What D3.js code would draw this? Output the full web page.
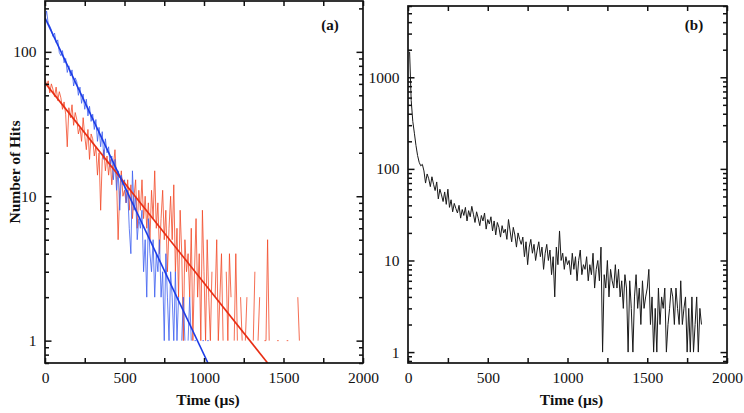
<!DOCTYPE html>
<html><head><meta charset="utf-8">
<script src="https://cdn.jsdelivr.net/npm/d3@7"></script>
<style>body{margin:0;background:#fff} svg{display:block}</style>
</head><body>
<svg id="c" width="744" height="413"></svg>
<script>
// ---- data (counts per 10 µs bin) ----
const binWidth = 10;
const redStart = 0;
const redCounts = [
 66,58,63,52,60,55,49,57,46,53,
 48,40,45,37,22,41,35,43,31,38,
 34,27,30,24,35,26,21,29,18,27,
 25,19,22,14,20,8,18,21,15,19,
 14,18,12,16,21,13,5,11,15,10,
 11,9,13,8,12,7,10,13,6,11,
 8,13,7,10,6,9,5,11,7,15,
 6,9,4,7,11,5,8,3,6,10,
 5,12,3,6,2,8,4,1,5,3,
 4,2,6,1,3,7,2,4,1,8,
 3,1,5,2,1,3,0,2,5,1,
 2,4,1,0,3,1,4,2,0,1,
 4,1,0,2,1,0,1,2,0,1,
 0,1,3,0,1,2,0,0,1,1,
 5,1,0,1,0,0,1,1,0,0,
 0,0,1,1,0,0,0,0,0,2,
 1,0,0,0,0,0,1];
const blueStart = 0;
const blueCounts = [
 170,192,158,151,142,128,135,116,121,99,
 94,102,84,90,72,80,68,75,58,66,
 62,50,57,44,51,40,47,36,42,33,
 37,29,34,24,30,22,28,18,25,20,
 22,16,19,13,18,11,15,8,14,12,
 13,9,11,6,4,15,8,10,5,7,
 6,8,3,5,2,7,4,3,5,2,
 4,3,5,2,3,1,4,2,1,3,
 2,1,3,1,2,0,1,2,1,0,
 1,2,1,0,1,1,0,1,0,1,
 1,0,1,1];
const blackStart = 10;
const blackCounts = [
 1900,560,330,245,180,140,118,108,112,95,
 70,88,78,64,82,68,58,72,47,60,
 52,44,56,41,60,38,46,34,42,37,
 33,40,29,36,31,38,27,35,30,39,
 32,26,34,29,24,31,27,33,22,28,
 25,30,21,27,19,26,23,18,24,20,
 22,17,28,21,16,23,19,14,20,17,
 15,18,11,16,9,14,17,12,15,10,
 13,16,11,14,8,12,15,10,13,7,
 11,4,14,9,21,10,12,8,11,9,
 10,7,12,8,11,6,10,13,7,9,
 8,11,6,9,7,12,5,8,10,6,
 14,1,7,5,10,4,8,6,5,9,
 5,8,4,6,3,7,5,1,6,3,
 1,4,7,3,5,2,6,3,4,5,
 8,2,4,1,3,1,5,2,4,3,
 5,1,2,3,5,4,2,5,3,2,
 6,2,3,4,1,3,1,4,1,2,
 4,1,3,2];
// exponential fits (straight lines on log axis): [time, hits] end points
const redFit = [[0, 61], [1400, 0.7]];
const blueFit = [[0, 172], [1025, 0.7]];
// axes
const xTickLabels = [0, 500, 1000, 1500, 2000];
const xTickStep = 250;
const xDomain = [0, 2000];
const yDomainA = [0.7, 225];
const yDomainB = [0.76, 6000];
const yTicksA = [1, 10, 100];
const yTicksB = [1, 10, 100, 1000];

const svg = d3.select("#c");
const FONT = "'Liberation Serif','Times New Roman',serif";

function toPoints(start, counts) {
  return counts.map((n, i) => ({t: start + i * binWidth, n}));
}

function minorTicks(dom) {
  const out = [];
  const lo = Math.floor(Math.log10(dom[0])), hi = Math.ceil(Math.log10(dom[1]));
  for (let e = lo; e <= hi; e++) for (let k = 2; k <= 9; k++) {
    const v = k * Math.pow(10, e);
    if (v >= dom[0] && v <= dom[1]) out.push(v);
  }
  return out;
}

function panel(opt) {
  const x = d3.scaleLinear().domain(xDomain).range([opt.x0, opt.x1]);
  const y = d3.scaleLog().domain(opt.yDomain).range([opt.y1, opt.y0]);
  const g = svg.append("g");
  const id = "clip" + opt.name;
  svg.append("clipPath").attr("id", id).append("rect")
    .attr("x", opt.x0).attr("y", opt.y0).attr("width", opt.x1 - opt.x0).attr("height", opt.y1 - opt.y0);
  const plot = g.append("g").attr("clip-path", `url(#${id})`);

  const line = d3.line().defined(d => d.n > 0).x(d => x(d.t)).y(d => y(d.n));
  opt.series.forEach(s => {
    plot.append("path").datum(s.data).attr("d", line)
      .attr("fill", "none").attr("stroke", s.color)
      .attr("stroke-width", s.width).attr("stroke-opacity", s.opacity || 1)
      .attr("stroke-linejoin", "round");
  });
  const fitLine = d3.line().x(d => x(d[0])).y(d => y(d[1]));
  (opt.fits || []).forEach(f => {
    plot.append("path").datum(f.data).attr("d", fitLine)
      .attr("fill", "none").attr("stroke", f.color).attr("stroke-width", 1.6);
  });

  const xt = d3.range(xDomain[0], xDomain[1] + 1, xTickStep);
  const fmtX = v => xTickLabels.includes(v) ? String(v) : "";
  const axB = g.append("g").attr("transform", `translate(0,${opt.y1})`)
    .call(d3.axisBottom(x).tickValues(xt).tickSize(-5).tickSizeOuter(0).tickPadding(9).tickFormat(fmtX));
  const axT = g.append("g").attr("transform", `translate(0,${opt.y0})`)
    .call(d3.axisTop(x).tickValues(xt).tickSize(-5).tickSizeOuter(0).tickFormat(""));
  const axL = g.append("g").attr("transform", `translate(${opt.x0},0)`)
    .call(d3.axisLeft(y).tickValues(opt.yTicks).tickSize(-6.5).tickSizeOuter(0).tickPadding(8.5).tickFormat(d3.format("d")));
  const axLm = g.append("g").attr("transform", `translate(${opt.x0},0)`)
    .call(d3.axisLeft(y).tickValues(minorTicks(opt.yDomain)).tickSize(-4).tickSizeOuter(0).tickFormat(""));
  const axR = g.append("g").attr("transform", `translate(${opt.x1},0)`)
    .call(d3.axisRight(y).tickValues(opt.yTicks).tickSize(-6.5).tickSizeOuter(0).tickFormat(""));
  const axRm = g.append("g").attr("transform", `translate(${opt.x1},0)`)
    .call(d3.axisRight(y).tickValues(minorTicks(opt.yDomain)).tickSize(-4).tickSizeOuter(0).tickFormat(""));
  [axB, axT, axL, axLm, axR, axRm].forEach(a => {
    a.select(".domain").remove();
    a.selectAll("line").attr("stroke", "#111").attr("stroke-width", 1.5);
    a.attr("font-family", FONT).attr("font-size", 15.5);
    a.selectAll("text").attr("fill", "#111");
  });

  g.append("rect").attr("x", opt.x0).attr("y", opt.y0)
    .attr("width", opt.x1 - opt.x0).attr("height", opt.y1 - opt.y0)
    .attr("fill", "none").attr("stroke", "#111").attr("stroke-width", 1.7);

  g.append("text").attr("x", (opt.x0 + opt.x1) / 2 + 4).attr("y", 405)
    .attr("text-anchor", "middle").attr("font-family", FONT).attr("font-weight", "bold")
    .attr("font-size", 15.5).attr("fill", "#111").text("Time (µs)");
  g.append("text").attr("x", opt.x1 - 33).attr("y", 30)
    .attr("text-anchor", "middle").attr("font-family", FONT).attr("font-weight", "bold")
    .attr("font-size", 15).attr("fill", "#111").text(opt.label);
  return {x, y, g};
}

const A = panel({
  name: "a", x0: 45, x1: 363, y0: 1, y1: 363, yDomain: yDomainA, yTicks: yTicksA, label: "(a)",
  series: [
    {data: toPoints(redStart, redCounts), color: "#f24a28", width: 1, opacity: 0.8},
    {data: toPoints(blueStart, blueCounts), color: "#3d5ff0", width: 1, opacity: 0.8}
  ],
  fits: [
    {data: redFit, color: "#e82e14"},
    {data: blueFit, color: "#1c3ce6"}
  ]
});
A.g.append("text").attr("transform", "translate(20,172) rotate(-90)")
  .attr("text-anchor", "middle").attr("font-family", FONT).attr("font-weight", "bold")
  .attr("font-size", 15.5).attr("fill", "#111").text("Number of Hits");

const B = panel({
  name: "b", x0: 408, x1: 727, y0: 6, y1: 363, yDomain: yDomainB, yTicks: yTicksB, label: "(b)",
  series: [
    {data: toPoints(blackStart, blackCounts), color: "#1a1a1a", width: 1}
  ]
});
</script>
</body></html>
